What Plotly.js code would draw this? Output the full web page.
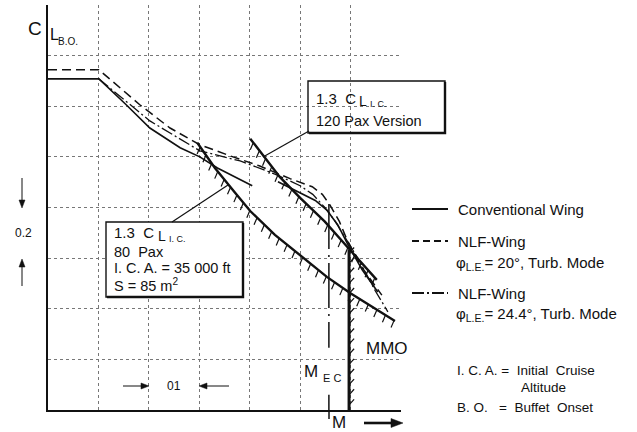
<!DOCTYPE html>
<html><head><meta charset="utf-8">
<script src="https://cdn.plot.ly/plotly-3.0.1.min.js"></script>
<style>html,body{margin:0;padding:0;background:#fff}</style>
</head><body><div id="chart" style="width:637px;height:432px"></div>
<script>
// Values in grid units: x = Mach steps (0..7), y = C_L steps (0..8)
const convX  = [0, 1.01, 1.53, 2.02, 2.62, 3.01, 3.36, 3.71, 4.05];
const convY  = [6.54, 6.54, 6.05, 5.57, 5.18, 5.00, 4.78, 4.60, 4.43];
const conv2X = [4.56, 5.00, 5.30, 5.53, 5.75, 5.93, 6.23, 6.54];
const conv2Y = [4.51, 4.29, 4.14, 3.95, 3.65, 3.30, 2.77, 2.33];
const nlf20X = [0, 1.01, 1.82, 2.42, 3.01, 3.61, 4.20, 4.80, 5.24, 5.44, 5.59, 5.78, 5.93, 6.23, 6.62];
const nlf20Y = [6.72, 6.72, 6.03, 5.57, 5.24, 5.02, 4.82, 4.57, 4.41, 4.26, 4.05, 3.72, 3.36, 2.81, 2.27];
const nlf24X = [1.01, 2.02, 3.01, 3.81, 4.50, 5.00, 5.25, 5.49, 5.70, 5.89, 6.19, 6.48, 6.74];
const nlf24Y = [6.54, 5.71, 5.12, 4.92, 4.66, 4.43, 4.26, 4.00, 3.72, 3.40, 2.92, 2.37, 1.94];
const bo80X  = [2.96, 3.31, 3.71, 4.01, 4.50, 5.00, 5.53, 5.99, 6.58, 6.88];
const bo80Y  = [5.28, 4.78, 4.29, 3.93, 3.46, 3.06, 2.63, 2.31, 1.94, 1.76];
const bo120X = [4.01, 4.30, 4.60, 5.00, 5.49, 5.99, 6.52];
const bo120Y = [5.36, 4.98, 4.60, 4.19, 3.72, 3.16, 2.57];
const mmoX = [5.97, 5.97];
const mmoY = [0, 3.16];
const mecX = [5.57, 5.57, null, 5.57, 5.57];
const mecY = [4.07, 1.23, null, 0.30, 0];

function hatch(xs, ys, step, dx, dy) {
  const hx = [], hy = [];
  let carry = step / 2;
  for (let i = 0; i < xs.length - 1; i++) {
    const x0 = xs[i], y0 = ys[i], x1 = xs[i+1], y1 = ys[i+1];
    const L = Math.hypot(x1 - x0, y1 - y0);
    let s = carry;
    while (s <= L) {
      const t = s / L;
      const x = x0 + t * (x1 - x0), y = y0 + t * (y1 - y0);
      hx.push(x, x + dx, null); hy.push(y, y + dy, null);
      s += step;
    }
    carry = s - L;
  }
  return {hx, hy};
}
const h80 = hatch(bo80X, bo80Y, 0.2, -0.06, -0.14);
const h120 = hatch(bo120X, bo120Y, 0.2, -0.06, -0.14);
const hM = hatch(mmoX, mmoY, 0.2, 0.1, 0.11);

const K = '#111';
function ln(x, y, w, dash, name) {
  return {x, y, type: 'scatter', mode: 'lines', name, showlegend: false,
    line: {color: K, width: w, dash: dash || 'solid'}, hoverinfo: 'skip'};
}
const traces = [
  ln(convX, convY, 1.6, 'solid', 'Conventional Wing'),
  ln(conv2X, conv2Y, 1.6, 'solid', 'Conventional Wing'),
  ln(nlf20X, nlf20Y, 1.5, '9px,5px', 'NLF-Wing 20°'),
  ln(nlf24X, nlf24Y, 1.3, '12px,3px,2px,3px', 'NLF-Wing 24.4°'),
  ln(bo80X, bo80Y, 2.4, 'solid', '1.3 CL 80 Pax'),
  ln(bo120X, bo120Y, 2.4, 'solid', '1.3 CL 120 Pax'),
  {x: h80.hx, y: h80.hy, type: 'scatter', mode: 'lines', showlegend: false, line: {color: K, width: 1.2}, hoverinfo: 'skip'},
  {x: h120.hx, y: h120.hy, type: 'scatter', mode: 'lines', showlegend: false, line: {color: K, width: 1.2}, hoverinfo: 'skip'},
  {x: hM.hx, y: hM.hy, type: 'scatter', mode: 'lines', showlegend: false, line: {color: K, width: 1.2}, hoverinfo: 'skip'},
  {x: mmoX, y: mmoY, type: 'scatter', mode: 'lines', name: 'MMO', showlegend: false, line: {color: K, width: 3}, hoverinfo: 'skip'},
  {x: mecX, y: mecY, type: 'scatter', mode: 'lines', name: 'MEC', showlegend: false, connectgaps: false, line: {color: K, width: 1.5, dash: '45px,6px,2px,6px'}, hoverinfo: 'skip'}
];

// pixel -> paper helpers (plot area 48..401 x, 5..410 y)
const PX = x => (x - 48) / 353;
const PY = y => (410 - y) / 405;
const F = 'Liberation Sans, Arial, Helvetica, sans-serif';
function T(x, y, text, size, anchor) {
  return {xref: 'paper', yref: 'paper', x: PX(x), y: PY(y), text, showarrow: false,
    xanchor: anchor || 'left', yanchor: 'middle', borderpad: 0, font: {family: F, size: size || 14, color: K}};
}
// arrow as shapes: line from (x1,y1) to head at (x2,y2)
function arrow(x1, y1, x2, y2, w, hl, hw) {
  const L = Math.hypot(x2 - x1, y2 - y1), ux = (x2 - x1) / L, uy = (y2 - y1) / L;
  const bx = x2 - ux * hl, by = y2 - uy * hl;
  const px = -uy * hw, py = ux * hw;
  return [
    {type: 'line', xref: 'paper', yref: 'paper', x0: PX(x1), y0: PY(y1), x1: PX(bx), y1: PY(by), line: {color: K, width: w}},
    {type: 'path', xref: 'paper', yref: 'paper', fillcolor: K, line: {color: K, width: 0.5},
      path: `M ${PX(x2)} ${PY(y2)} L ${PX(bx + px)} ${PY(by + py)} L ${PX(bx - px)} ${PY(by - py)} Z`}
  ];
}
const annotations = [
  T(27, 29, 'C', 19), T(49, 34, 'L', 16), T(57, 42, 'B.O.', 10),
  // box 1
  T(315, 98, '1.3  C', 15), T(358, 101, 'L', 14), T(369, 104, 'I. C.', 9),
  T(315, 121, '120 Pax Version', 14.5),
  // box 2
  T(113, 233, '1.3  C', 15), T(157, 236, 'L', 14), T(168, 239, 'I. C.', 9),
  T(113, 252, '80  Pax', 14.5),
  T(113, 268, 'I. C. A. = 35 000 ft', 14.5),
  T(113, 285, 'S = 85 m<sup>2</sup>', 14.5),
  // legend
  T(457, 209, 'Conventional Wing', 15),
  T(457, 241, 'NLF-Wing', 15),
  T(455, 263, 'φ<sub>L.E.</sub>= 20°, Turb. Mode', 15),
  T(457, 293, 'NLF-Wing', 15),
  T(455, 314, 'φ<sub>L.E.</sub>= 24.4°, Turb. Mode', 15),
  // explanation
  T(456, 370, 'I. C. A. =  Initial  Cruise', 13.5),
  T(520, 387, 'Altitude', 13.5),
  T(456, 407, 'B. O.   =  Buffet  Onset', 13.5),
  // labels in plot
  T(365, 348, 'MMO', 17),
  T(303, 371, 'M', 17), T(322, 378, 'E C', 11),
  T(174, 386, '01', 12, 'center'),
  T(24, 233, '0.2', 12, 'center'),
  T(339, 422, 'M', 17, 'center')
];

const shapes = [
  // box 1
  {type: 'rect', xref: 'paper', yref: 'paper', x0: PX(308), x1: PX(445), y0: PY(133), y1: PY(81), line: {color: K, width: 1.4}, fillcolor: 'rgba(255,255,255,0)'},
  {type: 'path', xref: 'paper', yref: 'paper', path: `M ${PX(445)} ${PY(82)} L ${PX(445)} ${PY(133)} L ${PX(309)} ${PY(133)}`, line: {color: K, width: 2.4}},
  {type: 'line', xref: 'paper', yref: 'paper', x0: PX(309), y0: PY(131), x1: PX(263), y1: PY(157), line: {color: K, width: 1.2}},
  // box 2
  {type: 'rect', xref: 'paper', yref: 'paper', x0: PX(106), x1: PX(243), y0: PY(297), y1: PY(222), line: {color: K, width: 1.4}, fillcolor: 'rgba(255,255,255,1)', layer: 'above'},
  {type: 'path', xref: 'paper', yref: 'paper', path: `M ${PX(243)} ${PY(223)} L ${PX(243)} ${PY(297)} L ${PX(107)} ${PY(297)}`, line: {color: K, width: 2.4}},
  {type: 'line', xref: 'paper', yref: 'paper', x0: PX(172), y0: PY(222), x1: PX(228), y1: PY(185), line: {color: K, width: 1.2}},
  // legend samples
  {type: 'line', xref: 'paper', yref: 'paper', x0: PX(412), x1: PX(448), y0: PY(209), y1: PY(209), line: {color: K, width: 2}},
  {type: 'line', xref: 'paper', yref: 'paper', x0: PX(412), x1: PX(448), y0: PY(241), y1: PY(241), line: {color: K, width: 2, dash: '7px,4px'}},
  {type: 'line', xref: 'paper', yref: 'paper', x0: PX(412), x1: PX(448), y0: PY(293), y1: PY(293), line: {color: K, width: 2, dash: '12px,3px,2px,3px'}},
  // M_EC tail below axis
  {type: 'line', xref: 'paper', yref: 'paper', x0: PX(329), x1: PX(329), y0: PY(410), y1: PY(419), line: {color: K, width: 1.5}},
  ...arrow(123, 386, 149, 386, 1, 8, 3),
  ...arrow(229, 386, 199, 386, 1, 8, 3),
  ...arrow(22, 178, 22, 208, 1, 8, 3),
  ...arrow(22, 286, 22, 259, 1, 8, 3),
  ...arrow(364, 423, 403, 423, 2.6, 12, 4.5)
];

const layout = {
  width: 637, height: 432,
  margin: {l: 48, r: 236, t: 5, b: 22, pad: 0},
  paper_bgcolor: '#fff', plot_bgcolor: '#fff',
  showlegend: false,
  xaxis: {range: [0, 7], dtick: 1, tick0: 0, showticklabels: false, ticks: '', showgrid: true,
    gridcolor: '#777', griddash: 'dot', gridwidth: 1, zeroline: false, showline: true, linecolor: K, linewidth: 2, fixedrange: true},
  yaxis: {range: [0, 8], dtick: 1, tick0: 0, showticklabels: false, ticks: '', showgrid: true,
    gridcolor: '#777', griddash: 'dot', gridwidth: 1, zeroline: false, showline: true, linecolor: K, linewidth: 2, fixedrange: true},
  annotations, shapes
};
Plotly.newPlot('chart', traces, layout, {displayModeBar: false, staticPlot: true});
</script></body></html>
